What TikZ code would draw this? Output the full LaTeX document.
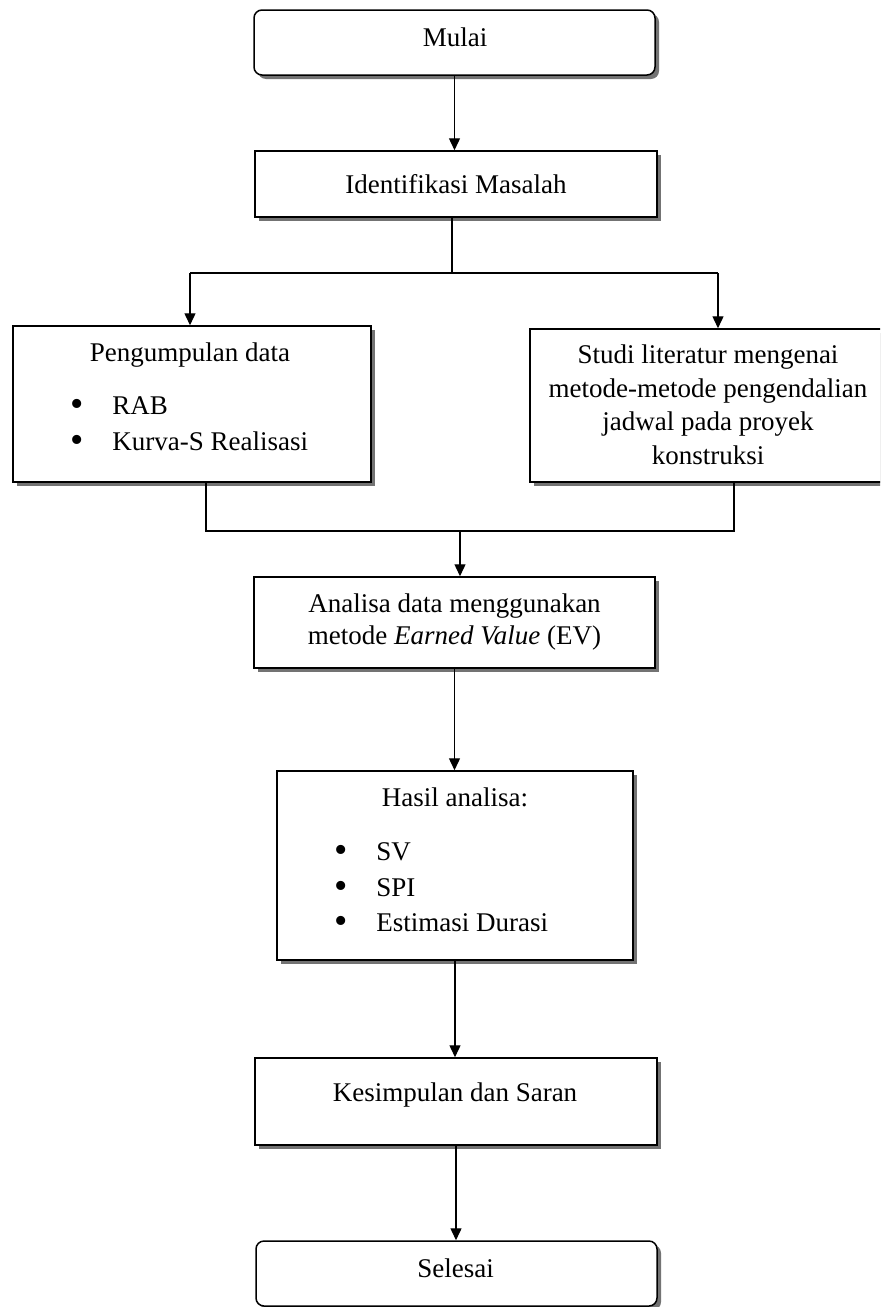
\documentclass[tikz,border=0pt]{standalone}
\usepackage{fontspec}
\setmainfont{Liberation Serif}
\usetikzlibrary{arrows.meta, shadows}

\begin{document}
\begin{tikzpicture}[x=0.5pt, y=-0.5pt,
	kotak/.style={draw, line width=0.75pt, fill=white, inner sep=0pt,
	  drop shadow={shadow xshift=2pt, shadow yshift=-2pt, fill=black!55, opacity=1}},
	bulat/.style={kotak, rounded corners=4pt},
	teks/.style={inner sep=0pt, font=\fontsize{13.5}{17}\selectfont},
	titik/.style={inner sep=0pt, font=\fontsize{19}{19}\selectfont},
	panah/.style={-{Triangle[length=6pt,width=5.5pt]}, line width=0.7pt},
	garis/.style={line width=0.7pt}]
	\useasboundingbox (0,0) rectangle (880,1307);
	\clip (0,0) rectangle (880,1307);
	% kotak
	\node[bulat, minimum width=200.5pt, minimum height=32.5pt] (mulai) at (454.5,42.5) {};
	\node[kotak, minimum width=201pt, minimum height=33pt] (ident) at (456,184) {};
	\node[kotak, minimum width=179pt, minimum height=78pt] (kumpul) at (192,404) {};
	\node[kotak, minimum width=180pt, minimum height=76.5pt] (studi) at (710,405.5) {};
	\node[kotak, minimum width=200.5pt, minimum height=45.5pt] (analisa) at (454.5,622.5) {};
	\node[kotak, minimum width=178pt, minimum height=94.5pt] (hasil) at (455,865.5) {};
	\node[kotak, minimum width=201pt, minimum height=43.5pt] (simpul) at (456,1101.5) {};
	\node[bulat, minimum width=200.5pt, minimum height=32.5pt] (selesai) at (456.5,1273.5) {};
	% teks
	\node[teks, anchor=base] (tMulai) at (455,46) {Mulai};
	\node[teks, anchor=base] (tIdent) at (456,193) {Identifikasi Masalah};
	\node[teks, anchor=base] (tKumpul) at (190,361) {Pengumpulan data};
	\node[titik, anchor=base] (bRab) at (77,416) {•};
	\node[teks, anchor=base west] (tRab) at (112,414) {RAB};
	\node[titik, anchor=base] (bKurva) at (77,452) {•};
	\node[teks, anchor=base west] (tKurva) at (112,450) {Kurva-S Realisasi};
	\node[teks, anchor=base, align=center, font=\fontsize{13.5}{16.75}\selectfont] (tStudi) at (708,464)
	  {Studi literatur mengenai\\ metode-metode pengendalian\\ jadwal pada proyek\\ konstruksi};
	\node[teks, anchor=base, align=center, font=\fontsize{13.5}{16}\selectfont] (tAnalisa) at (454.5,644)
	  {Analisa data menggunakan\\ metode \textit{Earned Value} (EV)};
	\node[teks, anchor=base] (tHasil) at (455,806) {Hasil analisa:};
	\node[titik, anchor=base] (bSv) at (341,862) {•};
	\node[teks, anchor=base west] (tSv) at (376,860) {SV};
	\node[titik, anchor=base] (bSpi) at (341,898) {•};
	\node[teks, anchor=base west] (tSpi) at (376,896) {SPI};
	\node[titik, anchor=base] (bDurasi) at (341,933) {•};
	\node[teks, anchor=base west] (tDurasi) at (376,931) {Estimasi Durasi};
	\node[teks, anchor=base] (tSimpul) at (455,1101) {Kesimpulan dan Saran};
	\node[teks, anchor=base] (tSelesai) at (455.5,1277) {Selesai};
	% penghubung
	\coordinate (cabang) at (452,273);
	\coordinate (cabangL) at (190,273);
	\coordinate (cabangR) at (718,273);
	\coordinate (gabungL) at (206,531);
	\coordinate (gabungM) at (460,531);
	\coordinate (gabungR) at (734,531);
	\draw[panah] (mulai.south) -- (mulai.south |- ident.north);
	\draw[garis] (ident.south -| cabang) -- (cabang);
	\draw[garis] (cabangL) -- (cabangR);
	\draw[panah] (cabangL) -- (cabangL |- kumpul.north);
	\draw[panah] (cabangR) -- (cabangR |- studi.north);
	\draw[garis] (gabungL |- kumpul.south) -- (gabungL) -- (gabungR) -- (gabungR |- studi.south);
	\draw[panah] (gabungM) -- (gabungM |- analisa.north);
	\draw[panah] (analisa.south) -- (analisa.south |- hasil.north);
	\draw[panah] (hasil.south) -- (hasil.south |- simpul.north);
	\draw[panah] (simpul.south) -- (simpul.south |- selesai.north);
\end{tikzpicture}
\end{document}
